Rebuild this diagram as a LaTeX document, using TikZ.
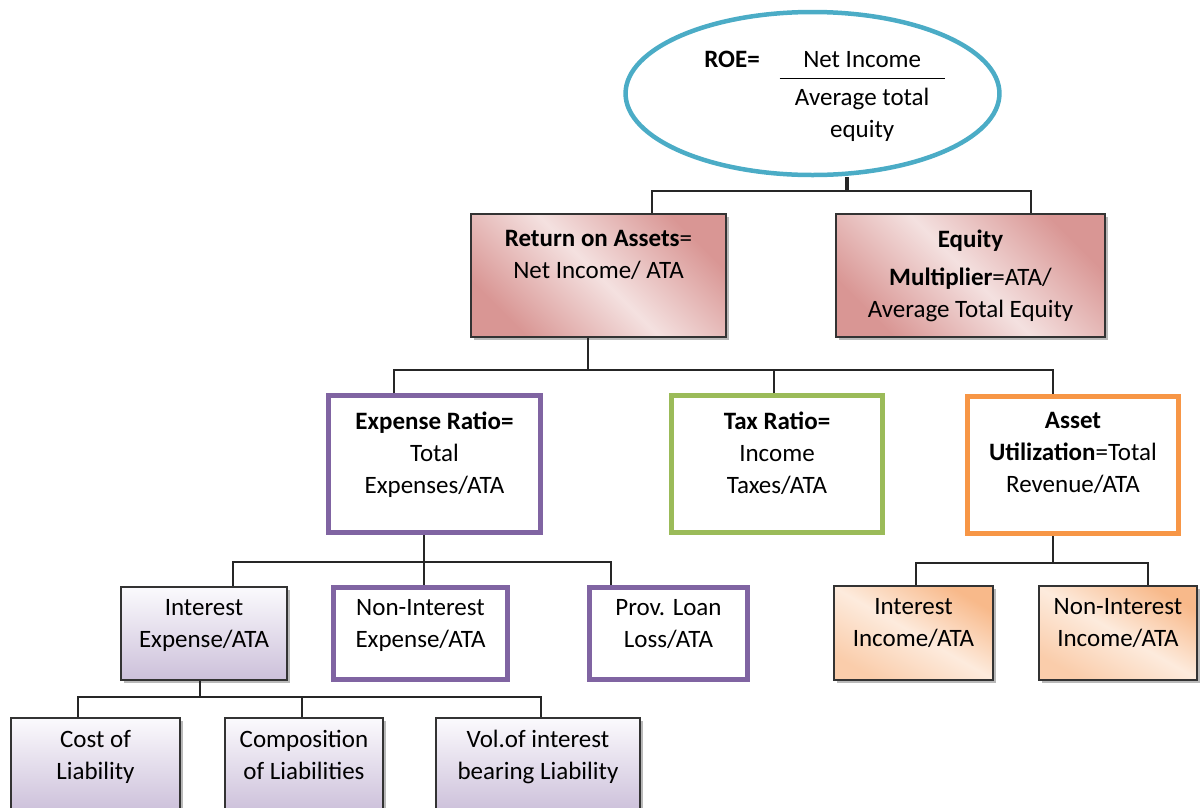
\documentclass[tikz,border=0pt]{standalone}
\usepackage{fontspec}
\setmainfont{Carlito}
\usetikzlibrary{positioning,shapes.geometric,shadows}
\definecolor{roeblue}{HTML}{4BACC6}
\definecolor{roadark}{HTML}{D99694}
\definecolor{roalight}{HTML}{F4E1E0}
\definecolor{lilacdark}{HTML}{CCC0DA}
\definecolor{lilaclight}{HTML}{FBFAFD}
\definecolor{peachdark}{HTML}{F8B98A}
\definecolor{peachlight}{HTML}{FDEBDD}
\definecolor{ratiopurple}{HTML}{8064A2}
\definecolor{ratiogreen}{HTML}{9BBB59}
\definecolor{ratioorange}{HTML}{F79646}
\setlength{\arrayrulewidth}{1.2pt}
\newcommand{\lift}[1]{\rule[-#1]{0pt}{#1}}
\tikzset{
 base/.style={rectangle,align=center,inner sep=2pt,font=\fontsize{25}{32}\selectfont},
 shadebox/.style={base,draw=black!80,line width=1.5pt,drop shadow={shadow xshift=3pt,shadow yshift=-3pt,fill=black!55}},
 pinkbox/.style={shadebox,top color=roadark,bottom color=roadark,middle color=roalight,shading angle=-45},
 lilacbox/.style={shadebox,top color=lilaclight,bottom color=lilacdark},
 peachbox/.style={shadebox,top color=peachdark,bottom color=peachdark!60!peachlight,middle color=peachlight,shading angle=-30},
 ringbox/.style={base,line width=5pt,fill=white},
 link/.style={draw=black!85,line width=1.5pt},
 stub/.style={draw=black!85,line width=4pt}}
\begin{document}
\begin{tikzpicture}[x=1pt,y=-1pt]
\useasboundingbox (0,0) rectangle (1200,807);
\clip (0,0) rectangle (1200,807);
% top ellipse
\node[ellipse,draw=roeblue,line width=4.5pt,minimum width=371pt,minimum height=163pt,inner sep=0pt,font=\fontsize{25}{32}\selectfont] (roe) at (812.5,93.5)
 {\begin{tabular}{@{\hspace{24pt}}l@{\hspace{20pt}}c@{}}
 \rule{0pt}{28pt}\textbf{ROE=} & \makebox[165pt]{Net Income}\\ \cline{2-2}
 & \rule{0pt}{28pt}Average total\\
 & equity
 \end{tabular}};
% level 1
\node[pinkbox,minimum width=255pt,minimum height=123pt] (roa) at (598.5,275.5) {\textbf{Return on Assets}=\\Net Income/ ATA\lift{42pt}};
\node[pinkbox,minimum width=269pt,minimum height=123pt] (em) at (970.5,275.5) {\textbf{Equity}\\[6pt]\textbf{Multiplier}=ATA/\\Average Total Equity};
% level 2
\node[ringbox,draw=ratiopurple,minimum width=212pt,minimum height=137pt] (exp) at (434.5,464) {\textbf{Expense Ratio=}\\Total\\Expenses/ATA\lift{22pt}};
\node[ringbox,draw=ratiogreen,minimum width=211pt,minimum height=137pt] (tax) at (777,464) {\textbf{Tax Ratio=}\\Income\\Taxes/ATA\lift{22pt}};
\node[ringbox,draw=ratioorange,minimum width=211pt,minimum height=137pt] (asset) at (1073,465) {\textbf{Asset}\\\textbf{Utilization}=Total\\Revenue/ATA\lift{26pt}};
% level 3
\node[lilacbox,minimum width=166pt,minimum height=93pt] (intexp) at (204,633.5) {Interest\\Expense/ATA\lift{21pt}};
\node[ringbox,draw=ratiopurple,minimum width=174pt,minimum height=92pt] (nonintexp) at (420.5,633.5) {Non-Interest\\Expense/ATA\lift{21pt}};
\node[ringbox,draw=ratiopurple,minimum width=158pt,minimum height=92pt] (prov) at (668.5,633.5) {Prov. Loan\\Loss/ATA\lift{21pt}};
\node[peachbox,minimum width=159pt,minimum height=94pt] (intinc) at (913.5,633) {Interest\\Income/ATA\lift{21pt}};
\node[peachbox,minimum width=158pt,minimum height=94pt] (nonintinc) at (1118,633) {Non-Interest\\Income/ATA\lift{21pt}};
% level 4
\node[lilacbox,minimum width=169pt,minimum height=94pt] (cost) at (95.5,765) {Cost of\\Liability\lift{20pt}};
\node[lilacbox,minimum width=158pt,minimum height=94pt] (comp) at (304,765) {Composition\\of Liabilities\lift{20pt}};
\node[lilacbox,minimum width=204pt,minimum height=94pt] (vol) at (538,765) {Vol.of interest\\bearing Liability\lift{20pt}};
% connectors
\coordinate (top) at (847,191);
\draw[stub] (roe.south -| top) -- (top);
\draw[link] ([xshift=53.5pt]roa.north) |- (top) -| ([xshift=60.5pt]em.north);
\coordinate (mid) at (588,370);
\draw[link] ([xshift=-10.5pt]roa.south) -- (mid);
\draw[link] ([xshift=-40.5pt]exp.north) |- (mid) -| ([xshift=-20pt]asset.north);
\draw[link] ([xshift=-3pt]tax.north) -- ([xshift=-3pt]tax.north |- mid);
\coordinate (low) at (424,562);
\draw[link] ([xshift=-10.5pt]exp.south) -- (low);
\draw[link] ([xshift=29pt]intexp.north) |- (low) -| ([xshift=-57.5pt]prov.north);
\draw[link] ([xshift=3.5pt]nonintexp.north) -- ([xshift=3.5pt]nonintexp.north |- low);
\coordinate (rev) at (1053,563);
\draw[link] ([xshift=-20pt]asset.south) -- (rev);
\draw[link] ([xshift=2.5pt]intinc.north) |- (rev) -| ([xshift=30pt]nonintinc.north);
\coordinate (liab) at (200,697);
\draw[link] ([xshift=-4pt]intexp.south) -- (liab);
\draw[link] ([xshift=-17.5pt]cost.north) |- (liab) -| ([xshift=3pt]vol.north);
\draw[link] ([xshift=-2pt]comp.north) -- ([xshift=-2pt]comp.north |- liab);
\end{tikzpicture}
\end{document}
